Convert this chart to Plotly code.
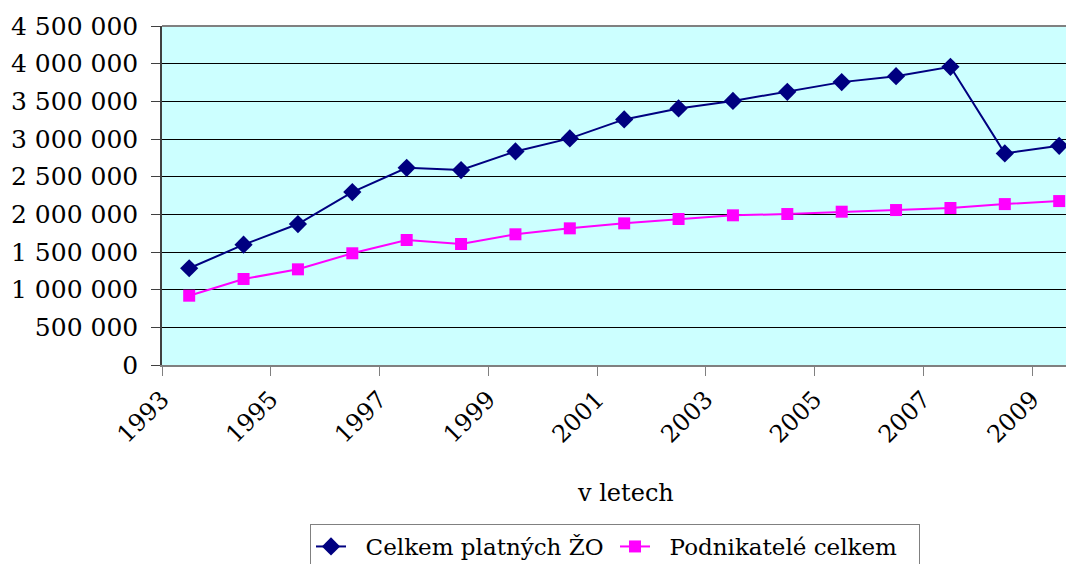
import plotly.graph_objects as go

years = list(range(1993, 2010))
celkem_zo = [1284000, 1597000, 1871000, 2296000, 2618000, 2588000, 2835000, 3008000,
             3260000, 3406000, 3505000, 3626000, 3755000, 3834000, 3958000, 2809000, 2910000]
podnikatele = [920000, 1142000, 1270000, 1483000, 1659000, 1606000, 1735000, 1814000,
               1880000, 1938000, 1987000, 2004000, 2035000, 2057000, 2084000, 2136000, 2176000]
series_names = ["Celkem platných ŽO", "Podnikatelé celkem"]
tick_years = list(range(1993, 2010, 2))
y_ticks = list(range(0, 4500001, 500000))
y_labels = ["{:,}".format(v).replace(",", " ") for v in y_ticks]

# category centers (points sit between tick marks)
xpos = [y + 0.5 for y in years]

FONT = "DejaVu Serif, serif"
PAD = "\u00a0\u00a0"  # visual gap between legend symbol and text

fig = go.Figure()
fig.add_trace(go.Scatter(
    x=xpos, y=celkem_zo, name=PAD + series_names[0], mode="lines+markers",
    line=dict(color="#000080", width=2),
    marker=dict(symbol="diamond", size=14, color="#000080"),
))
fig.add_trace(go.Scatter(
    x=xpos, y=podnikatele, name=PAD + series_names[1], mode="lines+markers",
    line=dict(color="#FF00FF", width=2),
    marker=dict(symbol="square", size=12, color="#FF00FF"),
))

# page body has an 8px margin; size the figure so the plot area lands where it should
OFF = 8
W, H = 1074 - OFF, 564 - OFF
L, R, T = 162 - OFF, 0, 26 - OFF
plot_bottom = 365 - OFF
B = H - plot_bottom
plot_w = W - L - R
plot_h = H - T - B
cat_w = 54.375
xmax = 1993 + plot_w / cat_w

fig.update_layout(
    width=W, height=H,
    margin=dict(l=L, r=R, t=T, b=B, autoexpand=False),
    paper_bgcolor="white",
    plot_bgcolor="#CCFFFF",
    font=dict(family=FONT, size=23, color="black"),
    showlegend=True,
    legend=dict(
        orientation="h", x=(310 - 162) / plot_w, y=(365 - 524) / plot_h,
        xanchor="left", yanchor="top",
        bordercolor="#808080", borderwidth=1, bgcolor="white",
        font=dict(family=FONT, size=23, color="black"),
        tracegroupgap=0, entrywidth=259,
    ),
    xaxis=dict(
        range=[1993, xmax], tickmode="array", tickvals=tick_years,
        ticktext=[str(t) for t in tick_years], tickangle=-45,
        ticks="outside", ticklen=9, tickcolor="#808080", tickwidth=1,
        showline=True, linecolor="#808080", linewidth=1.5,
        showgrid=False, zeroline=False, automargin=False,
        tickfont=dict(family=FONT, size=24, color="black"),
    ),
    yaxis=dict(
        range=[0, 4500000], tickmode="array", tickvals=y_ticks, ticktext=y_labels,
        ticks="outside", ticklen=9, tickcolor="#404040", tickwidth=1,
        showline=True, linecolor="#404040", linewidth=1.5,
        showgrid=True, gridcolor="black", gridwidth=1, zeroline=False,
        automargin=False,
        tickfont=dict(family=FONT, size=25, color="black"),
        ticklabelstandoff=8,
    ),
)
# top border of plot area
fig.add_shape(type="line", xref="paper", yref="paper", x0=0, x1=1, y0=1, y1=1,
              line=dict(color="#808080", width=2))

fig.add_annotation(text="v letech", xref="paper", yref="paper",
                   x=(625 - 162) / plot_w, y=(365 - 493) / plot_h,
                   xanchor="center", yanchor="middle", showarrow=False,
                   font=dict(family=FONT, size=24, color="black"))

fig.write_html("out.html")
